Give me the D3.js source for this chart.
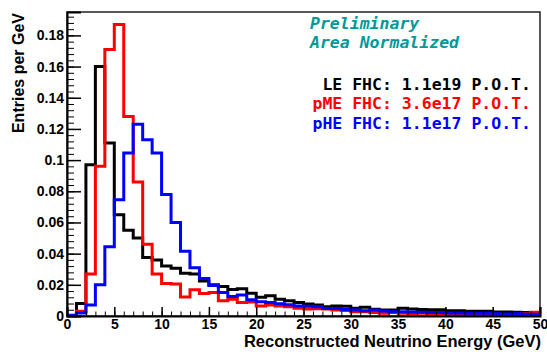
<!DOCTYPE html>
<html lang="en">
<head>
<meta charset="utf-8">
<title>Reconstructed Neutrino Energy</title>
<script src="https://d3js.org/d3.v7.min.js"></script>
<style>
  body { margin: 0; background: white; }
  text { font-family: "Liberation Sans", Arial, sans-serif; font-weight: bold; }
  .mono { font-family: "DejaVu Sans Mono", monospace; font-weight: bold; }
</style>
</head>
<body>
<script>
// bin edges in GeV (1 GeV wide bins from 0 to 50)
var binEdges = d3.range(0, 51, 1);

// area normalized entries per GeV
var leFHC = [0.0005, 0.008, 0.097, 0.160, 0.111, 0.065, 0.055, 0.050, 0.0375, 0.036,
             0.032, 0.0306, 0.0275, 0.027, 0.0225, 0.020, 0.019, 0.017, 0.0175, 0.0146,
             0.012, 0.013, 0.0107, 0.0098, 0.0086, 0.0077, 0.007, 0.006, 0.0064, 0.0062,
             0.005, 0.0056, 0.0043, 0.0038, 0.0038, 0.0049, 0.0045, 0.0042, 0.004, 0.004,
             0.0034, 0.0034, 0.0031, 0.003, 0.003, 0.0026, 0.0025, 0.0024, 0.0022, 0.0021];
var pmeFHC = [0.0003, 0.003, 0.027, 0.096, 0.171, 0.187, 0.128, 0.086, 0.046, 0.027,
              0.0208, 0.0205, 0.0122, 0.0168, 0.0145, 0.015, 0.0098, 0.0108, 0.0086, 0.009,
              0.0064, 0.007, 0.0064, 0.006, 0.005, 0.0045, 0.0047, 0.0045, 0.0038, 0.0035,
              0.0028, 0.0028, 0.0022, 0.0018, 0.0022, 0.0018, 0.0016, 0.0017, 0.0015, 0.0014,
              0.0013, 0.0012, 0.0011, 0.0011, 0.0009, 0.0005, 0.0008, 0.0009, 0.0014, 0.0024];
var pheFHC = [0.0003, 0.002, 0.007, 0.020, 0.0445, 0.0745, 0.1045, 0.123, 0.113, 0.1045,
              0.078, 0.060, 0.0415, 0.031, 0.024, 0.0195, 0.015, 0.0125, 0.0135, 0.0105,
              0.0092, 0.0086, 0.0078, 0.0072, 0.0064, 0.0062, 0.006, 0.0048, 0.0048, 0.0042,
              0.0038, 0.0034, 0.0038, 0.0032, 0.0028, 0.0027, 0.0026, 0.0024, 0.0023, 0.0022,
              0.002, 0.0019, 0.0018, 0.0017, 0.0017, 0.0015, 0.0013, 0.0014, 0.0012, 0.0011];

var xMajorTicks = [0, 5, 10, 15, 20, 25, 30, 35, 40, 45, 50];
var yMajorTicks = [0, 0.02, 0.04, 0.06, 0.08, 0.1, 0.12, 0.14, 0.16, 0.18];
var yTickLabels = ["0", "0.02", "0.04", "0.06", "0.08", "0.1", "0.12", "0.14", "0.16", "0.18"];

var legendLines = ["LE FHC: 1.1e19 P.O.T.", "pME FHC: 3.6e17 P.O.T.", "pHE FHC: 1.1e17 P.O.T."];
var seriesColors = ["#000000", "#ff0000", "#0000ff"];
var noteLines = ["Preliminary", "Area Normalized"];

var width = 547, height = 354;
var padL = 67, padR = 540, padT = 12, padB = 316;

var svg = d3.select("body").append("svg")
            .attr("width", width)
            .attr("height", height);

var x = d3.scaleLinear().domain([0, 50]).range([padL, padR]);
var y = d3.scaleLinear().domain([0, 0.195]).range([padB, padT]);

svg.append("clipPath").attr("id", "plotclip")
   .append("rect")
   .attr("x", padL).attr("y", padT - 2)
   .attr("width", padR - padL).attr("height", padB - padT + 2);

// histograms as step outlines
function stepPoints(vals) {
	var pts = [[binEdges[0], 0]];
	for (var i = 0; i < vals.length; i++) {
		pts.push([binEdges[i], vals[i]]);
		pts.push([binEdges[i + 1], vals[i]]);
	}
	pts.push([binEdges[binEdges.length - 1], 0]);
	return pts;
}

var line = d3.line().x(function(d) { return x(d[0]); }).y(function(d) { return y(d[1]); });

var allSeries = [leFHC, pmeFHC, pheFHC];
svg.append("g").attr("clip-path", "url(#plotclip)")
   .selectAll("path")
   .data(allSeries)
   .enter().append("path")
   .attr("d", function(d) { return line(stepPoints(d)); })
   .attr("fill", "none")
   .attr("stroke", function(d, i) { return seriesColors[i]; })
   .attr("stroke-width", 3)
   .attr("stroke-linejoin", "miter");

// frame
svg.append("rect")
   .attr("x", padL).attr("y", padT)
   .attr("width", padR - padL).attr("height", padB - padT)
   .attr("fill", "none")
   .attr("stroke", "#222")
   .attr("stroke-width", 1.5);

// y axis: minor then major ticks, pointing into the plot
svg.append("g").attr("transform", "translate(" + padL + ",0)")
   .call(d3.axisLeft(y).tickValues(d3.range(0, 0.195, 0.004)).tickSize(-7).tickFormat(""))
   .call(function(g) { g.select(".domain").remove(); });

var yAxis = svg.append("g").attr("transform", "translate(" + padL + ",0)")
   .call(d3.axisLeft(y).tickValues(yMajorTicks).tickSize(-14).tickPadding(3)
           .tickFormat(function(d, i) { return yTickLabels[i]; }));
yAxis.selectAll("text").style("font-size", "14px").attr("fill", "#000");
yAxis.select(".domain").attr("stroke-width", 2);
yAxis.selectAll("line").attr("stroke-width", 1.5);

// x axis
svg.append("g").attr("transform", "translate(0," + padB + ")")
   .call(d3.axisBottom(x).tickValues(d3.range(0, 51, 1)).tickSize(-4.5).tickFormat(""))
   .call(function(g) { g.select(".domain").remove(); });

var xAxis = svg.append("g").attr("transform", "translate(0," + padB + ")")
   .call(d3.axisBottom(x).tickValues(xMajorTicks).tickSize(-9).tickPadding(3)
           .tickFormat(d3.format("d")));
xAxis.selectAll("text").style("font-size", "14px").attr("fill", "#000");
xAxis.select(".domain").attr("stroke-width", 2);
xAxis.selectAll("line").attr("stroke-width", 1.5);

// axis titles
svg.append("text")
   .attr("x", 541).attr("y", 347)
   .attr("text-anchor", "end")
   .style("font-size", "16.5px")
   .text("Reconstructed Neutrino Energy (GeV)");

svg.append("text")
   .attr("transform", "translate(24,13) rotate(-90)")
   .attr("text-anchor", "end")
   .style("font-size", "16px")
   .text("Entries per GeV");

// notes
svg.selectAll(".note")
   .data(noteLines)
   .enter().append("text")
   .attr("class", "mono note")
   .attr("x", 310)
   .attr("y", function(d, i) { return 29 + i * 18.5; })
   .style("font-size", "16.5px")
   .style("font-style", "oblique")
   .attr("fill", "#009999")
   .text(function(d) { return d; });

// legend
svg.selectAll(".leg")
   .data(legendLines)
   .enter().append("text")
   .attr("class", "mono leg")
   .attr("x", 531)
   .attr("y", function(d, i) { return 89.5 + i * 19.5; })
   .attr("text-anchor", "end")
   .style("font-size", "16.5px")
   .attr("fill", function(d, i) { return seriesColors[i]; })
   .text(function(d) { return d; });

</script>
</body>
</html>
